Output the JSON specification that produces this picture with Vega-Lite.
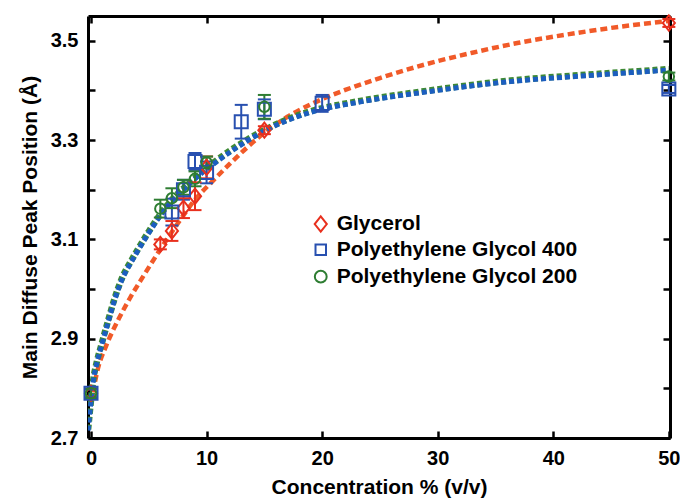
{
  "$schema": "https://vega.github.io/schema/vega-lite/v6.json",
  "width": 582,
  "height": 422,
  "autosize": "none",
  "padding": {"left": 88, "top": 16, "right": 10, "bottom": 64},
  "background": "white",
  "config": {"view": {"stroke": null}, "font": "Liberation Sans"},
  "datasets": {
    "fits": [
      {"fit": "G", "x": 0.0, "y": 2.77}, {"fit": "G", "x": 0.6, "y": 2.84}, {"fit": "G", "x": 1.3, "y": 2.885},
      {"fit": "G", "x": 2.4, "y": 2.94}, {"fit": "G", "x": 3.4, "y": 2.983}, {"fit": "G", "x": 4.5, "y": 3.025},
      {"fit": "G", "x": 6.0, "y": 3.08}, {"fit": "G", "x": 7.5, "y": 3.132}, {"fit": "G", "x": 9.0, "y": 3.18},
      {"fit": "G", "x": 10.5, "y": 3.217}, {"fit": "G", "x": 12.0, "y": 3.252}, {"fit": "G", "x": 13.5, "y": 3.285},
      {"fit": "G", "x": 15.0, "y": 3.315}, {"fit": "G", "x": 17.0, "y": 3.347}, {"fit": "G", "x": 19.0, "y": 3.372},
      {"fit": "G", "x": 22.0, "y": 3.401}, {"fit": "G", "x": 25.0, "y": 3.425}, {"fit": "G", "x": 29.0, "y": 3.453},
      {"fit": "G", "x": 33.0, "y": 3.476}, {"fit": "G", "x": 37.0, "y": 3.496}, {"fit": "G", "x": 41.0, "y": 3.512},
      {"fit": "G", "x": 45.0, "y": 3.526}, {"fit": "G", "x": 50.0, "y": 3.54},
      {"fit": "P2", "x": -0.25, "y": 2.717}, {"fit": "P2", "x": 0.0, "y": 2.776}, {"fit": "P2", "x": 0.2, "y": 2.818},
      {"fit": "P2", "x": 0.5, "y": 2.853}, {"fit": "P2", "x": 0.9, "y": 2.888}, {"fit": "P2", "x": 1.5, "y": 2.938},
      {"fit": "P2", "x": 2.0, "y": 2.978}, {"fit": "P2", "x": 2.7, "y": 3.023}, {"fit": "P2", "x": 3.5, "y": 3.058},
      {"fit": "P2", "x": 4.0, "y": 3.078}, {"fit": "P2", "x": 5.0, "y": 3.116}, {"fit": "P2", "x": 6.0, "y": 3.151},
      {"fit": "P2", "x": 7.0, "y": 3.18}, {"fit": "P2", "x": 8.0, "y": 3.203}, {"fit": "P2", "x": 9.0, "y": 3.225},
      {"fit": "P2", "x": 10.5, "y": 3.253}, {"fit": "P2", "x": 12.3, "y": 3.283}, {"fit": "P2", "x": 14.9, "y": 3.319},
      {"fit": "P2", "x": 17.0, "y": 3.342}, {"fit": "P2", "x": 19.0, "y": 3.358}, {"fit": "P2", "x": 23.3, "y": 3.379},
      {"fit": "P2", "x": 29.3, "y": 3.4}, {"fit": "P2", "x": 36.3, "y": 3.42}, {"fit": "P2", "x": 43.0, "y": 3.432},
      {"fit": "P2", "x": 50.0, "y": 3.443},
      {"fit": "P4", "x": -0.25, "y": 2.715}, {"fit": "P4", "x": 0.0, "y": 2.773}, {"fit": "P4", "x": 0.2, "y": 2.815},
      {"fit": "P4", "x": 0.5, "y": 2.85}, {"fit": "P4", "x": 0.9, "y": 2.885}, {"fit": "P4", "x": 1.5, "y": 2.935},
      {"fit": "P4", "x": 2.0, "y": 2.975}, {"fit": "P4", "x": 2.7, "y": 3.02}, {"fit": "P4", "x": 3.5, "y": 3.055},
      {"fit": "P4", "x": 4.0, "y": 3.075}, {"fit": "P4", "x": 5.0, "y": 3.113}, {"fit": "P4", "x": 6.0, "y": 3.148},
      {"fit": "P4", "x": 7.0, "y": 3.177}, {"fit": "P4", "x": 8.0, "y": 3.2}, {"fit": "P4", "x": 9.0, "y": 3.222},
      {"fit": "P4", "x": 10.5, "y": 3.25}, {"fit": "P4", "x": 12.3, "y": 3.28}, {"fit": "P4", "x": 14.9, "y": 3.317},
      {"fit": "P4", "x": 17.0, "y": 3.34}, {"fit": "P4", "x": 19.0, "y": 3.356}, {"fit": "P4", "x": 23.3, "y": 3.377},
      {"fit": "P4", "x": 29.3, "y": 3.398}, {"fit": "P4", "x": 36.3, "y": 3.418}, {"fit": "P4", "x": 43.0, "y": 3.43},
      {"fit": "P4", "x": 50.0, "y": 3.441}
    ],
    "pts": [
      {"series": "Glycerol", "x": 0, "y": 2.79, "lo": 2.782, "hi": 2.798},
      {"series": "Glycerol", "x": 6, "y": 3.09, "lo": 3.08, "hi": 3.1},
      {"series": "Glycerol", "x": 7, "y": 3.117, "lo": 3.097, "hi": 3.137},
      {"series": "Glycerol", "x": 8, "y": 3.163, "lo": 3.143, "hi": 3.183},
      {"series": "Glycerol", "x": 9, "y": 3.187, "lo": 3.159, "hi": 3.215},
      {"series": "Glycerol", "x": 10, "y": 3.245, "lo": 3.223, "hi": 3.267},
      {"series": "Glycerol", "x": 15, "y": 3.32, "lo": 3.312, "hi": 3.328},
      {"series": "Glycerol", "x": 50, "y": 3.536, "lo": 3.528, "hi": 3.544},
      {"series": "Polyethylene Glycol 400", "x": 0, "y": 2.79, "lo": 2.782, "hi": 2.798},
      {"series": "Polyethylene Glycol 400", "x": 7, "y": 3.155, "lo": 3.128, "hi": 3.182},
      {"series": "Polyethylene Glycol 400", "x": 8, "y": 3.2, "lo": 3.18, "hi": 3.22},
      {"series": "Polyethylene Glycol 400", "x": 9, "y": 3.257, "lo": 3.24, "hi": 3.274},
      {"series": "Polyethylene Glycol 400", "x": 10, "y": 3.235, "lo": 3.213, "hi": 3.257},
      {"series": "Polyethylene Glycol 400", "x": 13, "y": 3.337, "lo": 3.303, "hi": 3.371},
      {"series": "Polyethylene Glycol 400", "x": 15, "y": 3.362, "lo": 3.342, "hi": 3.382},
      {"series": "Polyethylene Glycol 400", "x": 20, "y": 3.374, "lo": 3.357, "hi": 3.391},
      {"series": "Polyethylene Glycol 400", "x": 50, "y": 3.403, "lo": 3.395, "hi": 3.411},
      {"series": "Polyethylene Glycol 200", "x": 0, "y": 2.79, "lo": 2.78, "hi": 2.8},
      {"series": "Polyethylene Glycol 200", "x": 6, "y": 3.162, "lo": 3.144, "hi": 3.18},
      {"series": "Polyethylene Glycol 200", "x": 7, "y": 3.183, "lo": 3.163, "hi": 3.203},
      {"series": "Polyethylene Glycol 200", "x": 8, "y": 3.205, "lo": 3.19, "hi": 3.22},
      {"series": "Polyethylene Glycol 200", "x": 9, "y": 3.222, "lo": 3.207, "hi": 3.237},
      {"series": "Polyethylene Glycol 200", "x": 10, "y": 3.255, "lo": 3.243, "hi": 3.267},
      {"series": "Polyethylene Glycol 200", "x": 15, "y": 3.367, "lo": 3.343, "hi": 3.391},
      {"series": "Polyethylene Glycol 200", "x": 50, "y": 3.428, "lo": 3.42, "hi": 3.436}
    ]
  },
  "resolve": {"axis": {"x": "independent", "y": "independent"}},
  "layer": [
    {
      "data": {"name": "fits"},
      "transform": [{"filter": "datum.fit === 'G'"}],
      "mark": {"type": "line", "color": "#F15A29", "strokeWidth": 4.5, "strokeDash": [7, 4], "interpolate": "monotone", "clip": true},
      "encoding": {
        "x": {"field": "x", "type": "quantitative", "scale": {"domain": [-0.26, 50.1], "nice": false, "zero": false},
          "axis": {"orient": "top", "values": [0, 10, 20, 30, 40, 50], "labels": false, "title": null, "tickSize": -7, "tickWidth": 2.5, "tickColor": "black", "domainWidth": 3, "domainColor": "black", "grid": false}},
        "y": {"field": "y", "type": "quantitative", "scale": {"domain": [2.7, 3.55], "nice": false, "zero": false},
          "axis": {"orient": "right", "values": [2.7, 2.8, 2.9, 3.0, 3.1, 3.2, 3.3, 3.4, 3.5], "labels": false, "title": null, "tickSize": -7, "tickWidth": 2.5, "tickColor": "black", "domainWidth": 3, "domainColor": "black", "grid": false}}
      }
    },
    {
      "data": {"name": "fits"},
      "transform": [{"filter": "datum.fit === 'P2'"}],
      "mark": {"type": "line", "color": "#3E8A36", "strokeWidth": 6.5, "strokeDash": [5, 3], "interpolate": "monotone", "clip": true},
      "encoding": {
        "x": {"field": "x", "type": "quantitative", "axis": null},
        "y": {"field": "y", "type": "quantitative", "axis": null}
      }
    },
    {
      "data": {"name": "fits"},
      "transform": [{"filter": "datum.fit === 'P4'"}],
      "mark": {"type": "line", "color": "#1C5EC0", "strokeWidth": 5, "strokeDash": [5, 3], "interpolate": "monotone", "clip": true},
      "encoding": {
        "x": {"field": "x", "type": "quantitative", "axis": null},
        "y": {"field": "y", "type": "quantitative", "axis": null}
      }
    },
    {
      "data": {"name": "pts"},
      "mark": {"type": "rule", "strokeWidth": 2},
      "encoding": {
        "x": {"field": "x", "type": "quantitative", "axis": null},
        "y": {"field": "lo", "type": "quantitative", "axis": null},
        "y2": {"field": "hi"},
        "stroke": {"field": "series", "type": "nominal", "legend": null,
          "scale": {"domain": ["Glycerol", "Polyethylene Glycol 400", "Polyethylene Glycol 200"], "range": ["#E8301E", "#2850B0", "#2E7D32"]}}
      }
    },
    {
      "data": {"name": "pts"},
      "mark": {"type": "tick", "orient": "horizontal", "size": 13, "thickness": 2, "opacity": 1},
      "encoding": {
        "x": {"field": "x", "type": "quantitative", "axis": null},
        "y": {"field": "lo", "type": "quantitative", "axis": null},
        "fill": {"field": "series", "type": "nominal", "legend": null,
          "scale": {"domain": ["Glycerol", "Polyethylene Glycol 400", "Polyethylene Glycol 200"], "range": ["#E8301E", "#2850B0", "#2E7D32"]}}
      }
    },
    {
      "data": {"name": "pts"},
      "mark": {"type": "tick", "orient": "horizontal", "size": 13, "thickness": 2, "opacity": 1},
      "encoding": {
        "x": {"field": "x", "type": "quantitative", "axis": null},
        "y": {"field": "hi", "type": "quantitative", "axis": null},
        "fill": {"field": "series", "type": "nominal", "legend": null}
      }
    },
    {
      "data": {"name": "pts"},
      "mark": {"type": "point", "filled": false, "strokeWidth": 2, "opacity": 1},
      "encoding": {
        "x": {"field": "x", "type": "quantitative",
          "axis": {"orient": "bottom", "values": [0, 10, 20, 30, 40, 50], "title": "Concentration % (v/v)", "tickSize": -7, "tickWidth": 2.5, "tickColor": "black", "domainWidth": 3, "domainColor": "black", "grid": false,
            "labelFont": "Liberation Sans", "labelFontSize": 20, "labelFontWeight": "bold", "labelColor": "black", "labelPadding": 17, "labelFlush": false, "labelOverlap": false,
            "titleFont": "Liberation Sans", "titleFontSize": 21, "titleFontWeight": "bold", "titleColor": "black", "titlePadding": 8}},
        "y": {"field": "y", "type": "quantitative",
          "axis": {"orient": "left", "values": [2.7, 2.8, 2.9, 3.0, 3.1, 3.2, 3.3, 3.4, 3.5], "labelExpr": "round(datum.value*10)%2==1 ? format(datum.value,'.1f') : ''", "title": "Main Diffuse Peak Position (Å)", "tickSize": -7, "tickWidth": 2.5, "tickColor": "black", "domainWidth": 3, "domainColor": "black", "grid": false,
            "labelFont": "Liberation Sans", "labelFontSize": 20, "labelFontWeight": "bold", "labelColor": "black", "labelPadding": 17, "labelFlush": false, "labelOverlap": false,
            "titleFont": "Liberation Sans", "titleFontSize": 21, "titleFontWeight": "bold", "titleColor": "black", "titlePadding": 10}},
        "color": {"field": "series", "type": "nominal", "legend": null,
          "scale": {"domain": ["Glycerol", "Polyethylene Glycol 400", "Polyethylene Glycol 200"], "range": ["#E8301E", "#2850B0", "#2E7D32"]}},
        "shape": {"field": "series", "type": "nominal", "legend": null,
          "scale": {"domain": ["Glycerol", "Polyethylene Glycol 400", "Polyethylene Glycol 200"], "range": ["M0,-1L0.8,0L0,1L-0.8,0Z", "square", "circle"]}},
        "size": {"field": "series", "type": "nominal", "legend": null,
          "scale": {"domain": ["Glycerol", "Polyethylene Glycol 400", "Polyethylene Glycol 200"], "range": [230, 110, 140]}}
      }
    },
    {
      "data": {"values": [{"series": "Glycerol"}]},
      "mark": {"type": "point", "filled": false, "strokeWidth": 2, "opacity": 1, "color": "#E8301E", "shape": "M0,-1L0.8,0L0,1L-0.8,0Z", "size": 230},
      "encoding": {"x": {"datum": 19.88, "type": "quantitative", "axis": null}, "y": {"datum": 3.131, "type": "quantitative", "axis": null}}
    },
    {
      "data": {"values": [{"series": "Polyethylene Glycol 400"}]},
      "mark": {"type": "point", "filled": false, "strokeWidth": 2, "opacity": 1, "color": "#2850B0", "shape": "square", "size": 110},
      "encoding": {"x": {"datum": 19.88, "type": "quantitative", "axis": null}, "y": {"datum": 3.079, "type": "quantitative", "axis": null}}
    },
    {
      "data": {"values": [{"series": "Polyethylene Glycol 200"}]},
      "mark": {"type": "point", "filled": false, "strokeWidth": 2, "opacity": 1, "color": "#2E7D32", "shape": "circle", "size": 140},
      "encoding": {"x": {"datum": 19.88, "type": "quantitative", "axis": null}, "y": {"datum": 3.025, "type": "quantitative", "axis": null}}
    },
    {
      "data": {"values": [{"series": "Glycerol"}]},
      "mark": {"type": "text", "align": "left", "baseline": "middle", "font": "Liberation Sans", "fontSize": 21, "fontWeight": "bold", "color": "black"},
      "encoding": {"x": {"datum": 21.26, "type": "quantitative", "axis": null}, "y": {"datum": 3.131, "type": "quantitative", "axis": null}, "text": {"field": "series"}}
    },
    {
      "data": {"values": [{"series": "Polyethylene Glycol 400"}]},
      "mark": {"type": "text", "align": "left", "baseline": "middle", "font": "Liberation Sans", "fontSize": 21, "fontWeight": "bold", "color": "black"},
      "encoding": {"x": {"datum": 21.26, "type": "quantitative", "axis": null}, "y": {"datum": 3.079, "type": "quantitative", "axis": null}, "text": {"field": "series"}}
    },
    {
      "data": {"values": [{"series": "Polyethylene Glycol 200"}]},
      "mark": {"type": "text", "align": "left", "baseline": "middle", "font": "Liberation Sans", "fontSize": 21, "fontWeight": "bold", "color": "black"},
      "encoding": {"x": {"datum": 21.26, "type": "quantitative", "axis": null}, "y": {"datum": 3.025, "type": "quantitative", "axis": null}, "text": {"field": "series"}}
    }
  ]
}
